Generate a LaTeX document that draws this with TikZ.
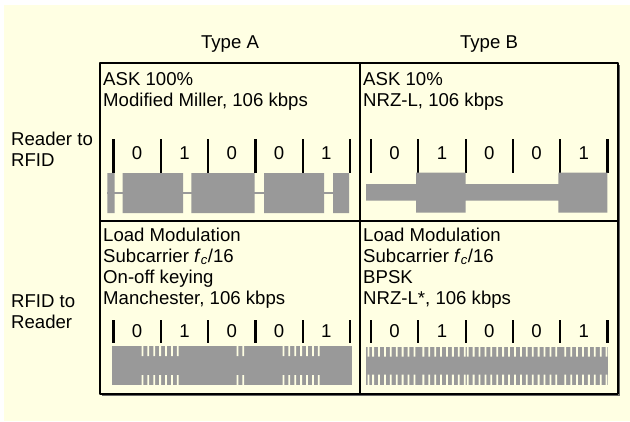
\documentclass[tikz,border=0pt]{standalone}
\usepackage{fontspec}
\setmainfont{Liberation Sans}
\definecolor{cream}{RGB}{255,255,227}
\definecolor{sig}{RGB}{153,153,153}
\tikzset{
	lbl/.style={anchor=base west,inner sep=0pt},
	head/.style={inner sep=0pt},
	tickmark/.style={line width=2.2pt},
	bit/.style={inner sep=0pt},
	slit/.style={fill=cream},
}
\begin{document}
\begin{tikzpicture}[x=1pt,y=-1pt,line join=round,font=\fontsize{18.6}{21}\selectfont]
		\def\dx{47.3}
		\def\xa{113.5}
		\def\xb{371}
		\def\per{5.9}
		\def\fc{\textit{f}\textsubscript{\textit{c}}}
		\useasboundingbox (0,0) rectangle (630,421);
		\fill [cream] (4,5) rectangle (630,421);
		% table frame
		\draw [black!60, line width=1.5pt] (102,395.6) -- (619.6,395.6) -- (619.6,65);
		\draw [line width=1.3pt] (100,63) rectangle (618,394);
		\draw [line width=1.1pt] (360,63) -- (360,394) (100,221) -- (618,221);
		% headings
		\node [head] (typeA) at (230,44) {Type A};
		\node [head] (typeB) at (489,44) {Type B};
		\node [lbl] (down1) at (11,145) {Reader to};
		\node [lbl] (down2) at (11,166) {RFID};
		\node [lbl] (up1) at (11,307) {RFID to};
		\node [lbl] (up2) at (11,328) {Reader};
		% cell texts
		\foreach \t [count=\i] in {ASK 100\%, {Modified Miller, 106 kbps}}
		\node [lbl] (At\i) at (103,85+21*\i-21) {\t};
		\foreach \t [count=\i] in {ASK 10\%, {NRZ-L, 106 kbps}}
		\node [lbl] (Bt\i) at (363,85+21*\i-21) {\t};
		\foreach \t [count=\i] in {Load Modulation, Subcarrier \fc/16, On-off keying, {Manchester, 106 kbps}}
		\node [lbl] (Ab\i) at (103,241+21*\i-21) {\t};
		\foreach \t [count=\i] in {Load Modulation, Subcarrier \fc/16, BPSK, {NRZ-L*, 106 kbps}}
		\node [lbl] (Bb\i) at (363,241+21*\i-21) {\t};
		% bit cells
		\foreach \x/\c in {\xa/A,\xb/B}
		\foreach \r/\ya/\yb/\yd in {t/139/173/153, b/320/343/331} {
			\foreach \k in {0,...,5}
			\draw [tickmark] (\x+\k*\dx,\ya) -- (\x+\k*\dx,\yb);
			\foreach \b [count=\k from 0] in {0,1,0,0,1}
			\node [bit] (\c\r\k) at (\x+\k*\dx+\dx/2,\yd) {\b};
		}
		% reader to RFID, type A
		\fill [sig] (107.3,173) rectangle (114.7,213) (122.7,173) rectangle (183,213)
		(191.3,173) rectangle (254.7,213) (264,173) rectangle (324,213) (333,173) rectangle (349,213);
		\draw [sig, line width=1.5pt] (107,193) -- (349,193);
		% reader to RFID, type B
		\fill [sig] (366,184) rectangle (607.3,200.7) (416,172.7) rectangle (465.7,212.7)
		(558.3,172.7) rectangle (607.3,212.7);
		% RFID to reader, type A
		\fill [sig] (112,346) rectangle (352,385);
		\foreach \a/\b in {140/182,235/246,281/324} {
			\pgfmathtruncatemacro\n{(\b-\a-3)/\per}
			\foreach \s in {0,...,\n}
			\fill [slit] (\a+1.5+\per*\s,345.5) rectangle ++(1.8,10.5)
			(\a+1.5+\per*\s,375) rectangle ++(1.8,10.5);
		}
		% RFID to reader, type B
		\fill [sig] (366,346.7) rectangle (608.3,385);
		\fill [slit] (367.5,346.2) rectangle ++(1.8,10.3) (367.5,374.5) rectangle ++(1.8,11);
		\foreach \ph [count=\k from 0] in {0,1,0,0,1}
		\foreach \s in {0,...,7}
		\fill [slit] (\xb+\k*\dx+1.2+\ph*\per/2+\per*\s,346.2) rectangle ++(1.8,10.3)
		(\xb+\k*\dx+1.2+\ph*\per/2+\per*\s,374.5) rectangle ++(1.8,11);
	\end{tikzpicture}
\end{document}
